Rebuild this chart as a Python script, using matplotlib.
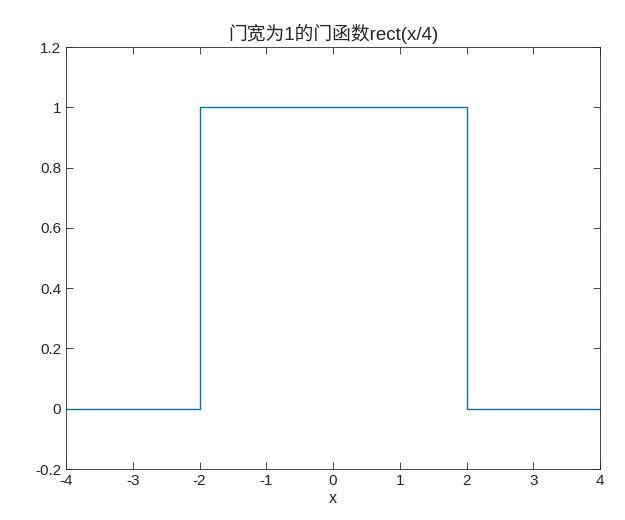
import matplotlib
matplotlib.use('Agg')
import matplotlib.pyplot as plt

# rect(x/4) sampled at the edges
x = [-4, -2, -2, 2, 2, 4]
y = [0, 0, 1, 1, 0, 0]

xticks = [-4, -3, -2, -1, 0, 1, 2, 3, 4]
yticks = [-0.2, 0, 0.2, 0.4, 0.6, 0.8, 1, 1.2]
ytick_labels = ['-0.2', '0', '0.2', '0.4', '0.6', '0.8', '1', '1.2']

plt.rcParams['font.family'] = ['Liberation Sans', 'Noto Sans CJK SC']
plt.rcParams['font.size'] = 10

fig = plt.figure(figsize=(6.25, 5.2), dpi=100)
ax = fig.add_axes([0.1056, 0.098, 0.8544, 0.8116])

ax.plot(x, y, color='#0072BD', linewidth=1)

ax.set_xlim(-4, 4)
ax.set_ylim(-0.2, 1.2)
ax.set_xticks(xticks)
ax.set_xticklabels([str(t) for t in xticks])
ax.set_yticks(yticks)
ax.set_yticklabels(ytick_labels)
ax.tick_params(direction='in', top=True, right=True, length=5, width=0.6,
               colors='#262626', labelsize=11)
for s in ax.spines.values():
    s.set_linewidth(0.6)
    s.set_color('#262626')

ax.set_xlabel('x', fontsize=11.5, color='#262626', labelpad=2)
ax.set_title('门宽为1的门函数rect(x/4)', fontsize=13.5, color='#262626', pad=5)

fig.savefig('out.png', dpi=100)
